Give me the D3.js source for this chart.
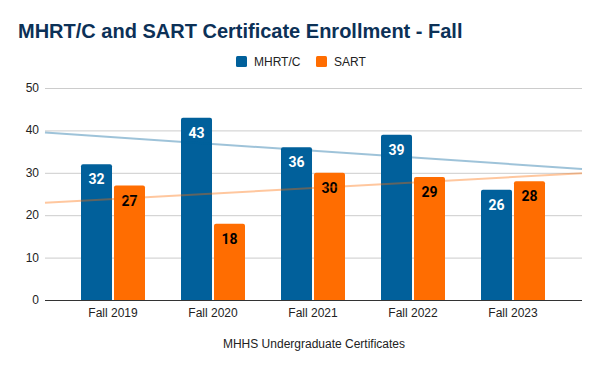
<!DOCTYPE html>
<html>
<head>
<style>
  body { margin: 0; background: #fff; }
  svg { display: block; font-family: "Liberation Sans", Arial, sans-serif; }
</style>
</head>
<body>
<svg id="chart" width="600" height="371"></svg>
<script src="https://cdn.jsdelivr.net/npm/d3@7"></script>
<script>
// data
const categories = ["Fall 2019", "Fall 2020", "Fall 2021", "Fall 2022", "Fall 2023"];
const seriesNames = ["MHRT/C", "SART"];
const mhrtValues = [32, 43, 36, 39, 26];
const sartValues = [27, 18, 30, 29, 28];
const yTicks = [0, 10, 20, 30, 40, 50];

const colors = ["#01609b", "#ff6d01"];
const trendColors = ["#9fc0d8", "#ffc49b"];
const labelColors = ["#fff", "#000"];

const width = 600, height = 371;
const plotLeft = 45, plotRight = 582, plotTop = 88, plotBottom = 300;

const svg = d3.select("#chart");

const x = d3.scaleBand().domain(categories).range([63, 563]).paddingInner(0.36).paddingOuter(0.18);
const x1 = d3.scaleBand().domain(seriesNames).range([0, x.bandwidth()]).paddingInner(0.06);
const y = d3.scaleLinear().domain([0, 50]).range([plotBottom, plotTop]);

// title
svg.append("text")
  .attr("x", 18).attr("y", 38)
  .attr("font-size", 20).attr("font-weight", "bold")
  .attr("fill", "#0c3157")
  .text("MHRT/C and SART Certificate Enrollment - Fall");

// legend
const legend = svg.append("g").attr("font-size", 12).attr("fill", "#222");
const legendX = [236, 316];
seriesNames.forEach((s, i) => {
  legend.append("rect").attr("x", legendX[i]).attr("y", 56).attr("width", 11).attr("height", 11)
    .attr("rx", 1.5).attr("fill", colors[i]);
  legend.append("text").attr("x", legendX[i] + 18).attr("y", 66).text(s);
});

// grid + y labels
svg.append("g").selectAll("line").data(yTicks.filter(d => d > 0)).join("line")
  .attr("x1", plotLeft).attr("x2", plotRight)
  .attr("y1", d => y(d) + 0.5).attr("y2", d => y(d) + 0.5)
  .attr("stroke", "#ccc").attr("stroke-width", 1);

svg.append("g").selectAll("text").data(yTicks).join("text")
  .attr("x", 39).attr("y", d => y(d) + 4)
  .attr("text-anchor", "end").attr("font-size", 12).attr("fill", "#222")
  .text(d => d);

// bars
const seriesData = [mhrtValues, sartValues];
const groups = svg.append("g").selectAll("g").data(categories).join("g")
  .attr("transform", d => `translate(${x(d)},0)`);

seriesNames.forEach((s, si) => {
  groups.append("path")
    .attr("fill", colors[si])
    .attr("d", (d, i) => {
      const bx = x1(s), bw = x1.bandwidth(), top = y(seriesData[si][i]), r = 2;
      return `M${bx},${plotBottom}V${top + r}Q${bx},${top} ${bx + r},${top}H${bx + bw - r}Q${bx + bw},${top} ${bx + bw},${top + r}V${plotBottom}Z`;
    });
  groups.append("text")
    .attr("x", x1(s) + x1.bandwidth() / 2)
    .attr("y", (d, i) => y(seriesData[si][i]) + 20)
    .attr("text-anchor", "middle")
    .attr("font-family", "Roboto, sans-serif")
    .attr("font-size", 14).attr("font-weight", "bold")
    .attr("fill", labelColors[si])
    .text((d, i) => seriesData[si][i]);
});

// linear trendlines (least squares over category index)
const center = d => x(d) + x.bandwidth() / 2;
const step = center(categories[1]) - center(categories[0]);
seriesData.forEach((vals, si) => {
  const n = vals.length;
  const mx = d3.mean(vals, (v, i) => i), my = d3.mean(vals);
  const slope = d3.sum(vals, (v, i) => (i - mx) * (v - my)) / d3.sum(vals, (v, i) => (i - mx) * (i - mx));
  const idx = px => (px - center(categories[0])) / step;
  const val = px => my + slope * (idx(px) - mx);
  svg.append("line")
    .attr("x1", plotLeft).attr("y1", y(val(plotLeft)))
    .attr("x2", plotRight).attr("y2", y(val(plotRight)))
    .attr("stroke", colors[si]).attr("stroke-opacity", 0.38).attr("stroke-width", 2);
});

// baseline
svg.append("line")
  .attr("x1", plotLeft).attr("x2", plotRight)
  .attr("y1", plotBottom + 0.5).attr("y2", plotBottom + 0.5)
  .attr("stroke", "#333").attr("stroke-width", 1);

// x labels
svg.append("g").selectAll("text").data(categories).join("text")
  .attr("x", d => center(d)).attr("y", 317)
  .attr("text-anchor", "middle").attr("font-size", 12).attr("fill", "#222")
  .text(d => d);

// x axis title
svg.append("text")
  .attr("x", 314).attr("y", 348)
  .attr("text-anchor", "middle").attr("font-size", 12).attr("fill", "#222")
  .text("MHHS Undergraduate Certificates");
</script>
</body>
</html>
